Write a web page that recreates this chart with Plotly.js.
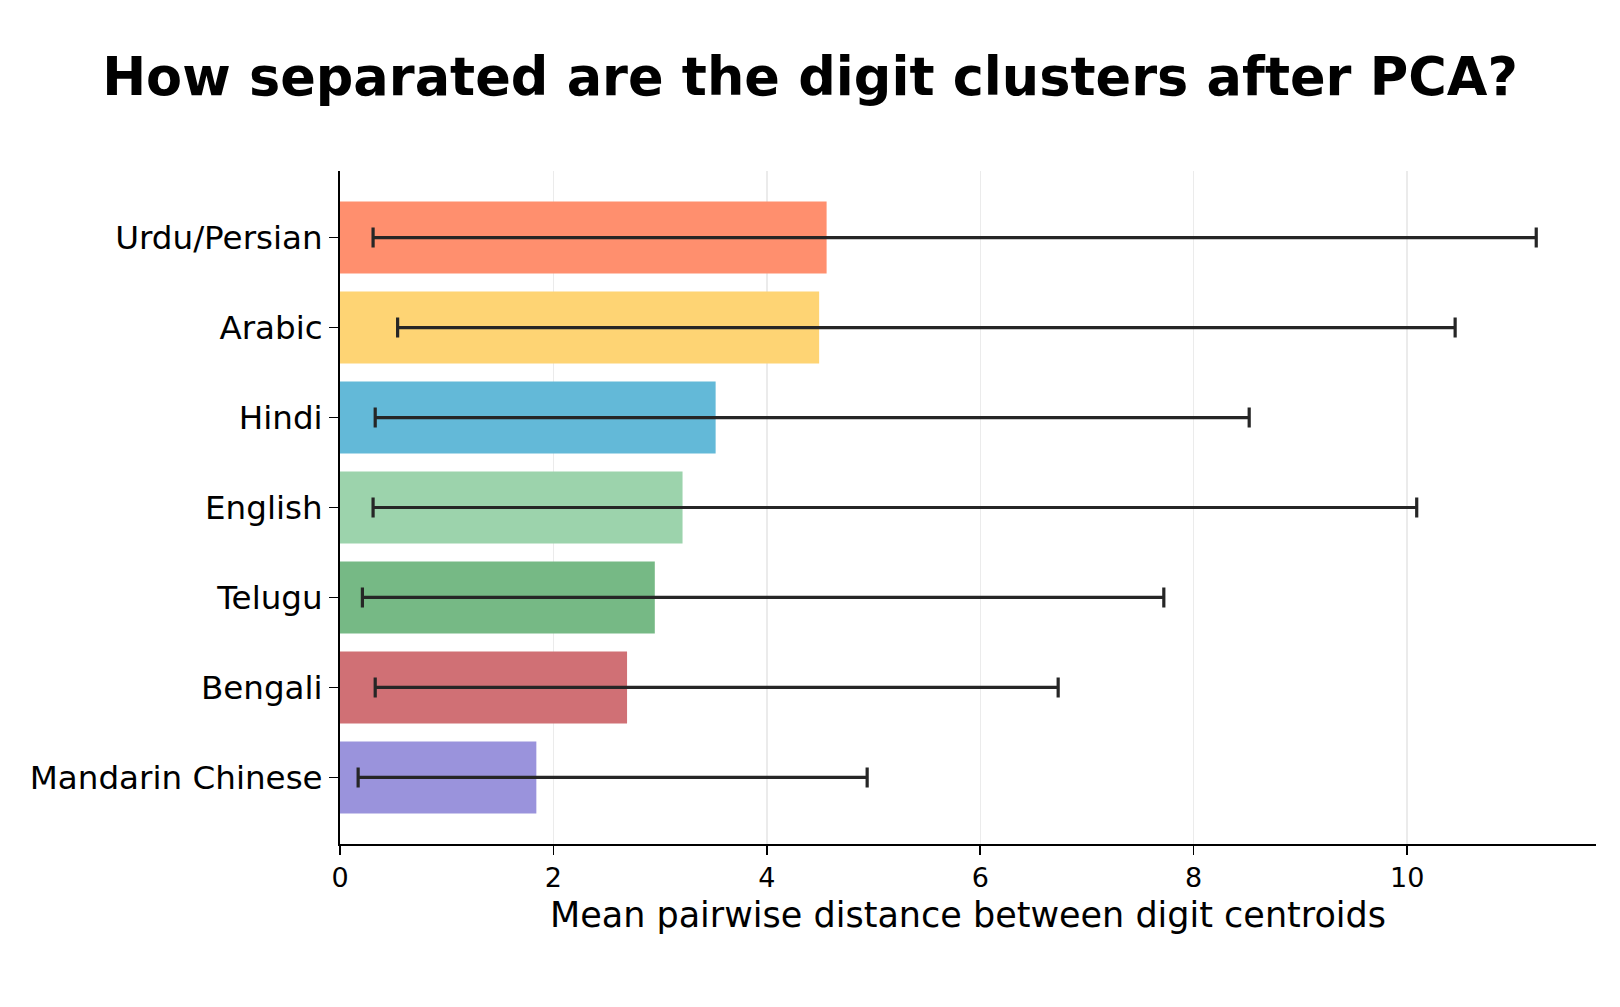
<!DOCTYPE html>
<html>
<head>
<meta charset="utf-8">
<script src="https://cdn.plot.ly/plotly-3.0.1.min.js"></script>
<style>
  html, body { margin: 0; padding: 0; background: #ffffff; }
  #chart { width: 1620px; height: 1007px; }
</style>
</head>
<body>
<div id="chart"></div>
<script>
// Scripts, listed top to bottom as they appear on the chart
const languages = ["Urdu/Persian", "Arabic", "Hindi", "English", "Telugu", "Bengali", "Mandarin Chinese"];

// Mean pairwise distance between digit centroids
const meanDistance = [4.56, 4.49, 3.52, 3.21, 2.95, 2.69, 1.84];

// Smallest and largest pairwise distance for each script
const minDistance = [0.31, 0.54, 0.33, 0.31, 0.21, 0.33, 0.17];
const maxDistance = [11.21, 10.45, 8.52, 10.09, 7.72, 6.73, 4.94];

const barColors = ["#FF8F6E", "#FED474", "#63B9D8", "#9CD3AC", "#76B985", "#D07075", "#9A93DC"];

const xTicks = [0, 2, 4, 6, 8, 10];

const errPlus = maxDistance.map((v, i) => v - meanDistance[i]);
const errMinus = meanDistance.map((v, i) => v - minDistance[i]);

const FONT = "DejaVu Sans, Liberation Sans, sans-serif";

const trace = {
  type: "bar",
  orientation: "h",
  x: meanDistance,
  y: languages,
  width: 0.8,
  marker: { color: barColors, line: { width: 0 } },
  error_x: {
    type: "data",
    symmetric: false,
    array: errPlus,
    arrayminus: errMinus,
    color: "#262626",
    thickness: 3.2,
    width: 10
  },
  hoverinfo: "x+y",
  showlegend: false
};

const layout = {
  width: 1620,
  height: 1007,
  paper_bgcolor: "#ffffff",
  plot_bgcolor: "#ffffff",
  margin: { l: 340, r: 24, t: 171, b: 163, pad: 0 },
  font: { family: FONT, color: "#000000" },
  title: {
    text: "<b>How separated are the digit clusters after PCA?</b>",
    font: { family: FONT, size: 52.5, color: "#000000" },
    x: 0.5,
    xref: "container",
    xanchor: "center",
    y: 1 - 77 / 1007,
    yref: "container",
    yanchor: "middle"
  },
  xaxis: {
    range: [0, 11.77],
    tickvals: xTicks,
    ticktext: xTicks.map(String),
    ticks: "outside",
    ticklen: 9,
    tickwidth: 1.6,
    tickcolor: "#000000",
    tickfont: { family: FONT, size: 27, color: "#000000" },
    showline: true,
    linecolor: "#000000",
    linewidth: 1.8,
    showgrid: true,
    gridcolor: "#ebebeb",
    gridwidth: 1.5,
    zeroline: false,
    title: {
      text: "Mean pairwise distance between digit centroids",
      font: { family: FONT, size: 35, color: "#000000" },
      standoff: 10
    }
  },
  yaxis: {
    type: "category",
    categoryorder: "array",
    categoryarray: languages,
    range: [6.74, -0.74],
    ticks: "outside",
    ticklen: 9,
    tickwidth: 1.6,
    tickcolor: "#000000",
    tickfont: { family: FONT, size: 32.6, color: "#000000" },
    showline: true,
    linecolor: "#000000",
    linewidth: 1.8,
    showgrid: false,
    zeroline: false
  },
  bargap: 0.2
};

Plotly.newPlot("chart", [trace], layout, { displayModeBar: false, staticPlot: true });
</script>
</body>
</html>
